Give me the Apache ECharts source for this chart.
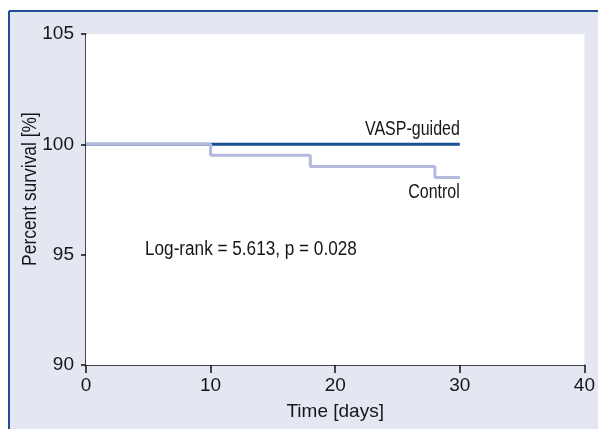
<!DOCTYPE html>
<html>
<head>
<meta charset="utf-8">
<script src="https://cdn.jsdelivr.net/npm/echarts@6/dist/echarts.min.js"></script>
<style>
  html, body { margin: 0; padding: 0; background: #ffffff; }
  #chart { width: 598px; height: 429px; }
</style>
</head>
<body>
<div id="chart"></div>
<script>
// ---- data ----
const xTicks = [0, 10, 20, 30, 40];
const yTicks = [90, 95, 100, 105];
const vaspDays = [0, 30];
const vaspSurvival = [100, 100];
const controlDays = [0, 10, 18, 28, 30];
const controlSurvival = [100, 99.5, 99.0, 98.5, 98.5];
const seriesNames = ['VASP-guided', 'Control'];
const xTitle = 'Time [days]';
const yTitle = 'Percent survival [%]';
const annotation = 'Log-rank = 5.613, p = 0.028';

const FONT = "'Liberation Sans', Arial, sans-serif";
const TXT = '#161616';

const chart = echarts.init(document.getElementById('chart'), null, { renderer: 'canvas' });

const pair = (xs, ys) => xs.map((x, i) => [x, ys[i]]);

const option = {
  animation: false,
  backgroundColor: '#ffffff',
  grid: {
    left: 86, right: 13, top: 34, bottom: 64,
    show: true, backgroundColor: '#ffffff', borderWidth: 0, z: 2
  },
  xAxis: {
    type: 'value',
    min: xTicks[0], max: xTicks[xTicks.length - 1], interval: 10,
    splitLine: { show: false },
    axisLine: { show: true, onZero: false, lineStyle: { color: '#111', width: 1.5 } },
    axisTick: { show: true, length: 8, lineStyle: { color: '#111', width: 1.5 } },
    axisLabel: { color: TXT, fontFamily: FONT, fontSize: 19, margin: 11 },
    name: xTitle, nameLocation: 'middle', nameGap: 37,
    nameTextStyle: { color: TXT, fontFamily: FONT, fontSize: 19 }
  },
  yAxis: {
    type: 'value',
    min: yTicks[0], max: yTicks[yTicks.length - 1], interval: 5,
    splitLine: { show: false },
    axisLine: { show: true, onZero: false, lineStyle: { color: '#111', width: 1.5 } },
    axisTick: { show: true, length: 5, lineStyle: { color: '#111', width: 1.5 } },
    axisLabel: { color: TXT, fontFamily: FONT, fontSize: 19, margin: 12 }
  },
  series: [
    {
      name: seriesNames[0], type: 'line', step: 'end', showSymbol: false, z: 3,
      data: pair(vaspDays, vaspSurvival),
      lineStyle: { color: '#1d4f95', width: 3 }
    },
    {
      name: seriesNames[1], type: 'line', step: 'end', showSymbol: false, z: 4,
      data: pair(controlDays, controlSurvival),
      lineStyle: { color: '#b4b9dd', width: 3 }
    }
  ]
};
chart.setOption(option);

const vEnd = chart.convertToPixel({ gridIndex: 0 }, [vaspDays[vaspDays.length - 1], vaspSurvival[vaspSurvival.length - 1]]);
const cEnd = chart.convertToPixel({ gridIndex: 0 }, [controlDays[controlDays.length - 1], controlSurvival[controlSurvival.length - 1]]);

chart.setOption({
  graphic: [
    { type: 'rect', z: -10, silent: true, shape: { x: 9, y: 11, width: 600, height: 430 }, style: { fill: '#e4e6f2' } },
    { type: 'line', z: -9, silent: true, shape: { x1: 9, y1: 11, x2: 598, y2: 11 }, style: { stroke: '#1f4f95', lineWidth: 2 } },
    { type: 'line', z: -9, silent: true, shape: { x1: 9, y1: 11, x2: 9, y2: 429 }, style: { stroke: '#1f4f95', lineWidth: 2 } },
    { type: 'text', z: 10, x: vEnd[0], y: vEnd[1] - 15, scaleX: 0.8,
      style: { text: seriesNames[0], fill: TXT, font: '20px ' + FONT, textAlign: 'right', textVerticalAlign: 'middle' } },
    { type: 'text', z: 10, x: cEnd[0], y: cEnd[1] + 15, scaleX: 0.8,
      style: { text: seriesNames[1], fill: TXT, font: '20px ' + FONT, textAlign: 'right', textVerticalAlign: 'middle' } },
    { type: 'text', z: 10, x: 145, y: 250, scaleX: 0.88,
      style: { text: annotation, fill: TXT, font: '19.5px ' + FONT, textAlign: 'left', textVerticalAlign: 'middle' } },
    { type: 'text', z: 10, x: 30, y: 189, rotation: Math.PI / 2, scaleX: 0.87,
      style: { text: yTitle, fill: TXT, font: '20px ' + FONT, textAlign: 'center', textVerticalAlign: 'middle' } }
  ]
});
</script>
</body>
</html>
